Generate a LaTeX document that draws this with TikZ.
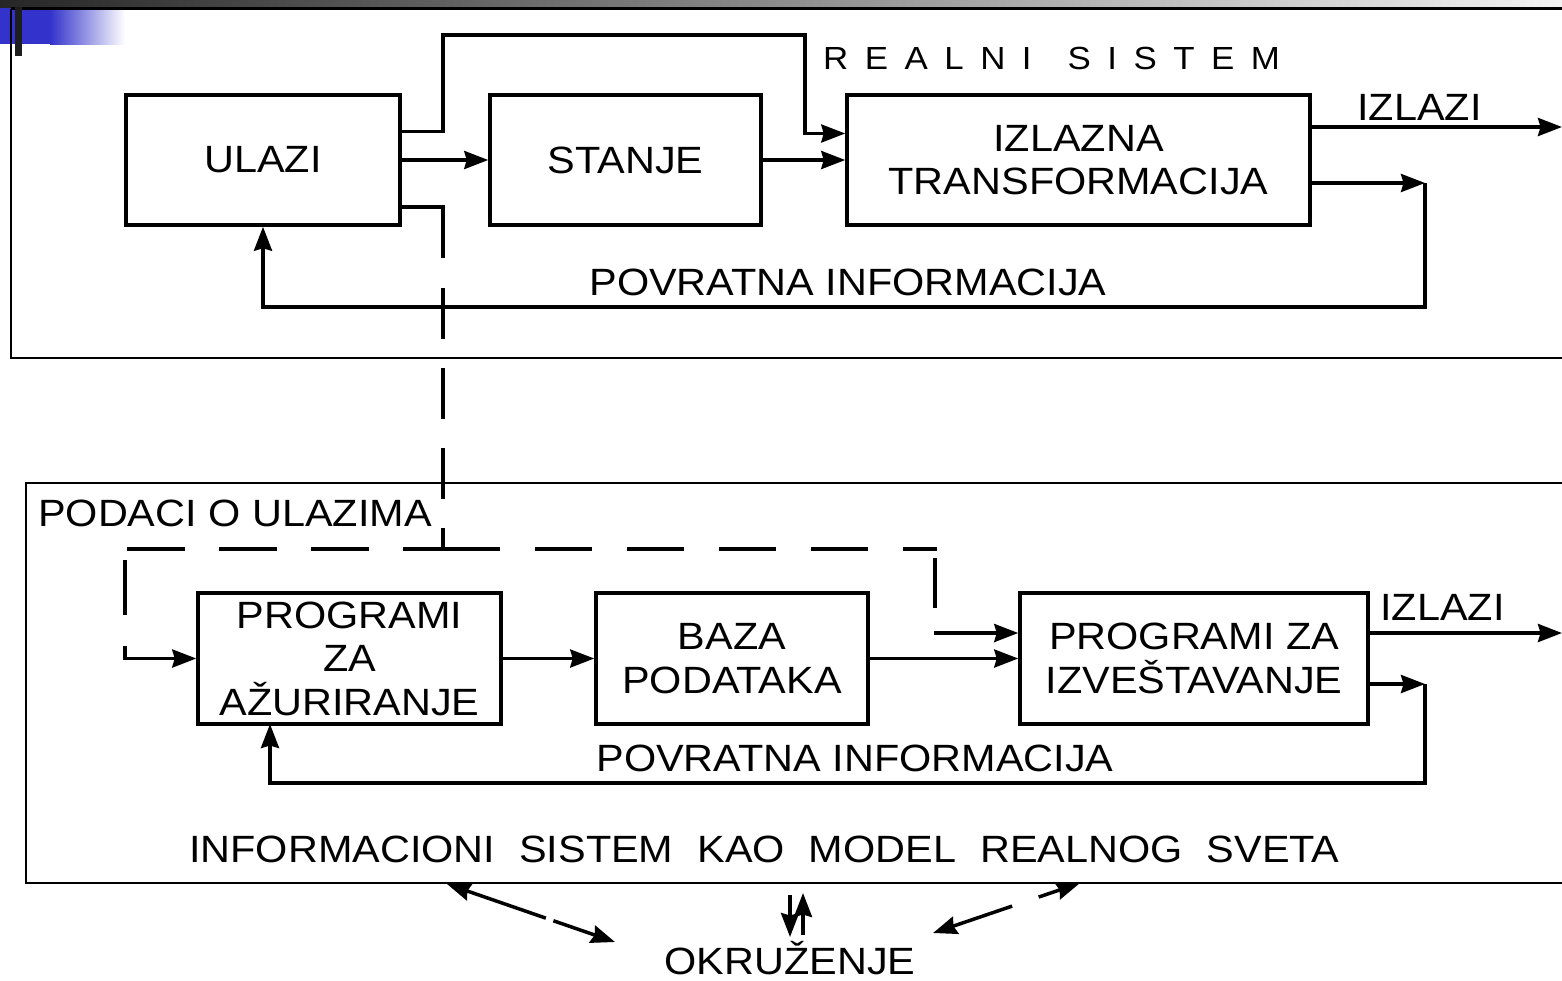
\documentclass[tikz,border=0pt]{standalone}
\usepackage{fontspec}
\setmainfont{Liberation Sans}[FakeStretch=1.09]
\usetikzlibrary{arrows.meta}
\definecolor{slideblue}{HTML}{3333CC}
\definecolor{bardark}{HTML}{1E1E1E}
\tikzset{
  tip/.tip={Stealth[length=24pt,width=18pt,inset=2.5pt]},
  box/.style={draw, line width=3.5pt, inner sep=0pt, align=center, font=\bigfont},
  frame/.style={draw, line width=2.2pt},
  conn/.style={line width=3.5pt},
  arr/.style={line width=3.5pt, -tip},
  dbl/.style={line width=3.5pt, tip-tip},
  lbl/.style={inner sep=0pt, font=\bigfont},
}
\newcommand{\bigfont}{\fontsize{38}{43.5}\selectfont}
\newcommand{\smallfont}{\fontsize{32}{36}\selectfont}
\newcommand{\ls}{\hspace{16.5pt}}
\newcommand{\ws}{\hspace{24pt}}
\begin{document}
\begin{tikzpicture}[x=1pt,y=-1pt]
\useasboundingbox (0,0) rectangle (1562,980);
\clip (0,0) rectangle (1562,980);
% slide decoration
\shade[left color=black!85, right color=black!5] (0,0) rectangle (1562,7);
\fill[slideblue] (0,8) rectangle (50,44);
\shade[left color=slideblue, right color=white] (50,8) rectangle (125,44);
\draw[line width=3pt] (11,8.5) -- (1570,8.5);
% outer frames
\draw[frame] (1570,358) -- (11,358) -- (11,8.5);
\draw[frame] (1570,483) -- (26,483) -- (26,883) -- (1570,883);
\fill[bardark] (15,7) rectangle (22,56);

% ===== REALNI SISTEM =====
\node[box, minimum width=274pt, minimum height=130pt] (ulazi) at (263,160) {ULAZI};
\node[box, minimum width=271pt, minimum height=130pt] (stanje) at (625.5,160) {STANJE};
\node[box, minimum width=463pt, minimum height=130pt] (izt) at (1078.5,160) {IZLAZNA\\TRANSFORMACIJA};
\node[lbl, font=\smallfont, anchor=base west] (realni) at (823,69) {R\ls E\ls A\ls L\ls N\ls I\hspace{36pt}S\ls I\ls S\ls T\ls E\ls M};
\node[lbl, anchor=base west] (izl1) at (1357,120) {IZLAZI};
\node[lbl, anchor=base] (pov1) at (848,295) {POVRATNA INFORMACIJA};

\coordinate (out1) at (1562,127);
\coordinate (fb1) at (1425,183);
\draw[arr] (ulazi.east) -- (stanje.west);
\draw[arr] (stanje.east) -- (izt.west);
\draw[arr] (ulazi.east |- 0,131.5) -- (443,131.5) -- (443,35) -- (805,35) -- (805,133.5) -- (izt.west |- 0,133.5);
\draw[arr] (izt.east |- out1) -- (out1);
\draw[arr] (izt.east |- fb1) -- (fb1);
\draw[arr] (fb1) -- (1425,307) -- (263,307) -- (ulazi.south);
% update path to informacioni sistem
\draw[conn] (ulazi.east |- 0,207) -- (443,207) -- (443,258);
\draw[conn, dash pattern=on 51pt off 29pt] (443,288) -- (443,549);

% ===== INFORMACIONI SISTEM =====
\node[lbl, anchor=base west] (podaci) at (38,526) {PODACI O ULAZIMA};
\node[box, minimum width=303pt, minimum height=131pt] (pa) at (349.5,658.5) {PROGRAMI\\ZA\\AŽURIRANJE};
\node[box, minimum width=272pt, minimum height=131pt] (baza) at (732,658.5) {BAZA\\PODATAKA};
\node[box, minimum width=348pt, minimum height=131pt] (piz) at (1194,658.5) {PROGRAMI ZA\\IZVEŠTAVANJE};
\node[lbl, anchor=base west] (izl2) at (1380,620) {IZLAZI};
\node[lbl, anchor=base] (pov2) at (855,771) {POVRATNA INFORMACIJA};
\node[lbl, anchor=base west] (isk) at (189,862) {INFORMACIONI\ws SISTEM\ws KAO\ws MODEL\ws REALNOG\ws SVETA};
\node[lbl, anchor=base] (okr) at (790,974) {OKRUŽENJE};

% dashed data path
\draw[conn, dash pattern=on 58pt off 34pt, dash phase=18pt] (443,549) -- (125,549);
\draw[conn] (125,560) -- (125,615);
\draw[arr] (125,646) -- (125,658.5) -- (pa.west);
\draw[conn, dash pattern=on 57pt off 35pt] (443,549) -- (937,549);
\draw[conn] (935,558) -- (935,608);
\coordinate (d2) at (934,633);
\draw[arr] (d2) -- (piz.west |- d2);

\coordinate (out2) at (1562,633);
\coordinate (fb2) at (1425,684);
\draw[arr] (pa.east) -- (baza.west);
\draw[arr] (baza.east) -- (piz.west);
\draw[arr] (piz.east |- out2) -- (out2);
\draw[arr] (piz.east |- fb2) -- (fb2);
\draw[arr] (fb2) -- (1425,783) -- (270,783) -- (270,724);

% environment arrows
\draw[dbl, dash pattern=on 84pt off 8pt] (447,884) -- (615,942);
\draw[arr] (790,895) -- (790,937);
\draw[arr] (803,935) -- (803,893);
\draw[dbl, dash pattern=on 63pt off 28pt] (933,933) -- (1080,883);
\end{tikzpicture}
\end{document}
